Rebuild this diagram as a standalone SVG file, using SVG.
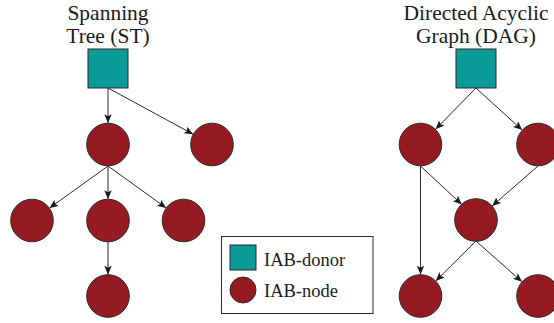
<svg xmlns="http://www.w3.org/2000/svg" width="554" height="323" viewBox="0 0 554 323">
<style>
text{font-family:'Liberation Serif','Times New Roman',serif;fill:#1a1a1a}
.t{font-size:21.5px;text-anchor:middle}
.lt{font-size:18.5px}
.donor{fill:#0A9A98;stroke:#2a2a2a;stroke-width:1}
.node{fill:#961A22;stroke:#2a2a2a;stroke-width:1}
.e{stroke:#2a2a2a;stroke-width:1;fill:none;marker-end:url(#ah)}
</style>
<defs>
<marker id="ah" markerUnits="userSpaceOnUse" markerWidth="10" markerHeight="10" refX="7" refY="3" orient="auto" viewBox="0 0 8 6">
<path d="M0,0 L7,3 L0,6 L1.5,3 Z" fill="#1a1a1a"/>
</marker>
</defs>
<rect width="554" height="323" fill="#fff"/>
<text class="t" x="108" y="19.5">Spanning</text>
<text class="t" x="108" y="42.5">Tree (ST)</text>
<text class="t" x="476" y="19.5">Directed Acyclic</text>
<text class="t" x="476" y="42.5">Graph (DAG)</text>
<g id="connectors">
<line class="e" x1="108" y1="88" x2="108" y2="123"/>
<line class="e" x1="108" y1="88" x2="193.1" y2="134.2"/>
<line class="e" x1="108" y1="166" x2="49.5" y2="208"/>
<line class="e" x1="108" y1="166" x2="108" y2="199"/>
<line class="e" x1="108" y1="166" x2="166.1" y2="207.9"/>
<line class="e" x1="108" y1="242" x2="108" y2="274.5"/>
<line class="e" x1="476" y1="88" x2="435.6" y2="129.2"/>
<line class="e" x1="476" y1="88" x2="522.1" y2="130"/>
<line class="e" x1="420.5" y1="166" x2="420.5" y2="274.5"/>
<line class="e" x1="420.5" y1="166" x2="461.8" y2="204.5"/>
<line class="e" x1="538" y1="166" x2="492.2" y2="205.9"/>
<line class="e" x1="476" y1="241" x2="435.8" y2="280.9"/>
<line class="e" x1="476" y1="241" x2="521.9" y2="281.7"/>
</g>
<g id="st-donor"><rect class="donor" x="88" y="49" width="40" height="39"/></g>
<g id="st-n1"><circle class="node" cx="108" cy="144.5" r="21.3"/></g>
<g id="st-n2"><circle class="node" cx="212" cy="144.5" r="21.3"/></g>
<g id="st-n3"><circle class="node" cx="32" cy="220.5" r="21.3"/></g>
<g id="st-n4"><circle class="node" cx="108" cy="220.5" r="21.3"/></g>
<g id="st-n5"><circle class="node" cx="183.5" cy="220.5" r="21.3"/></g>
<g id="st-n6"><circle class="node" cx="108" cy="296" r="21.3"/></g>
<g id="dag-donor"><rect class="donor" x="456" y="49" width="40" height="39"/></g>
<g id="dag-n1"><circle class="node" cx="420.5" cy="144.5" r="21.3"/></g>
<g id="dag-n2"><circle class="node" cx="538" cy="144.5" r="21.3"/></g>
<g id="dag-n3"><circle class="node" cx="476" cy="220" r="21.3"/></g>
<g id="dag-n4"><circle class="node" cx="420.5" cy="296" r="21.3"/></g>
<g id="dag-n5"><circle class="node" cx="538" cy="296" r="21.3"/></g>
<g id="legend">
<rect x="221.5" y="236.5" width="151.5" height="77" fill="#fff" stroke="#2a2a2a" stroke-width="1"/>
<rect class="donor" x="230" y="245" width="26" height="25"/>
<circle class="node" cx="243" cy="290" r="13"/>
<text class="lt" x="264" y="266">IAB-donor</text>
<text class="lt" x="264" y="297">IAB-node</text>
</g>
</svg>
